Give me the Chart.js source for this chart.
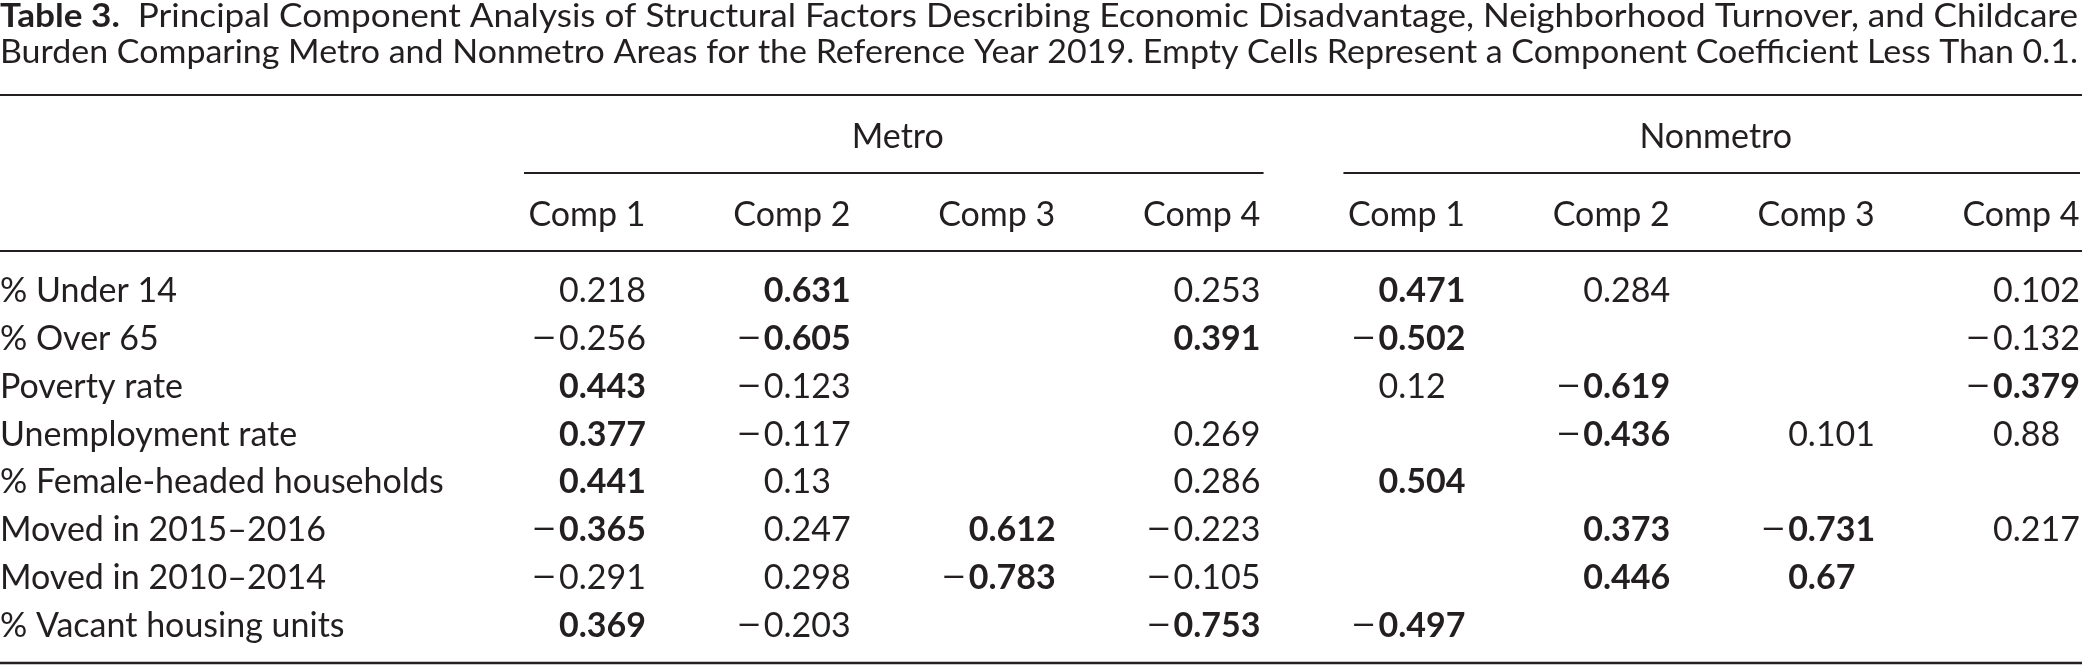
<!DOCTYPE html>
<html>
<head>
<meta charset="utf-8">
<script src="https://cdn.jsdelivr.net/npm/chart.js@4.4.1/dist/chart.umd.min.js"></script>
<style>
  html, body { margin: 0; padding: 0; background: #fff; }
  #wrap { width: 2082px; height: 665px; position: relative; }
</style>
</head>
<body>
<div id="wrap"><canvas id="table3"></canvas></div>
<script>
// table content
const titleLead = 'Table 3.';
const titleLine1 = 'Principal Component Analysis of Structural Factors Describing Economic Disadvantage, Neighborhood Turnover, and Childcare';
const titleLine2 = 'Burden Comparing Metro and Nonmetro Areas for the Reference Year 2019. Empty Cells Represent a Component Coefficient Less Than 0.1.';

const rowLabels = [
    '% Under 14',
    '% Over 65',
    'Poverty rate',
    'Unemployment rate',
    '% Female-headed households',
    'Moved in 2015–2016',
    'Moved in 2010–2014',
    '% Vacant housing units'
];
const groupLabels = ['Metro', 'Nonmetro'];
const compLabels = ['Comp 1', 'Comp 2', 'Comp 3', 'Comp 4'];

// null = empty cell (coefficient below 0.1)
const metroComp1 = [0.218, -0.256, 0.443, 0.377, 0.441, -0.365, -0.291, 0.369];
const metroComp2 = [0.631, -0.605, -0.123, -0.117, 0.13, 0.247, 0.298, -0.203];
const metroComp3 = [null, null, null, null, null, 0.612, -0.783, null];
const metroComp4 = [0.253, 0.391, null, 0.269, 0.286, -0.223, -0.105, -0.753];
const nonmetroComp1 = [0.471, -0.502, 0.12, null, 0.504, null, null, -0.497];
const nonmetroComp2 = [0.284, null, -0.619, -0.436, null, 0.373, 0.446, null];
const nonmetroComp3 = [null, null, null, 0.101, null, -0.731, 0.67, null];
const nonmetroComp4 = [0.102, -0.132, -0.379, 0.88, null, 0.217, null, null];

// cells printed in bold
const metroComp1Bold = [0, 0, 1, 1, 1, 1, 0, 1];
const metroComp2Bold = [1, 1, 0, 0, 0, 0, 0, 0];
const metroComp3Bold = [0, 0, 0, 0, 0, 1, 1, 0];
const metroComp4Bold = [0, 1, 0, 0, 0, 0, 0, 1];
const nonmetroComp1Bold = [1, 1, 0, 0, 1, 0, 0, 1];
const nonmetroComp2Bold = [0, 0, 1, 1, 0, 1, 1, 0];
const nonmetroComp3Bold = [0, 0, 0, 0, 0, 1, 1, 0];
const nonmetroComp4Bold = [0, 0, 1, 0, 0, 0, 0, 0];

const columns = [
    { group: 0, comp: 0, values: metroComp1, bold: metroComp1Bold },
    { group: 0, comp: 1, values: metroComp2, bold: metroComp2Bold },
    { group: 0, comp: 2, values: metroComp3, bold: metroComp3Bold },
    { group: 0, comp: 3, values: metroComp4, bold: metroComp4Bold },
    { group: 1, comp: 0, values: nonmetroComp1, bold: nonmetroComp1Bold },
    { group: 1, comp: 1, values: nonmetroComp2, bold: nonmetroComp2Bold },
    { group: 1, comp: 2, values: nonmetroComp3, bold: nonmetroComp3Bold },
    { group: 1, comp: 3, values: nonmetroComp4, bold: nonmetroComp4Bold }
];
const columnKeys = columns.map(c => groupLabels[c.group] + ' ' + compLabels[c.comp]);

const INK = '#231f20';
const FAMILY = 'Lato, "Open Sans", sans-serif';
const BODY_SIZE = 34;
const TITLE_SIZE = 33;

function hRule(ctx, x0, x1, y, w) {
    ctx.save();
    ctx.strokeStyle = INK;
    ctx.lineWidth = w;
    ctx.beginPath();
    ctx.moveTo(x0, y);
    ctx.lineTo(x1, y);
    ctx.stroke();
    ctx.restore();
}

// draws text pieces on one line, squeezed to a given width
function fittedLine(ctx, pieces, x, baseline, width) {
    let total = 0;
    pieces.forEach(p => {
        ctx.font = (p.bold ? 'bold ' : '') + TITLE_SIZE + 'px ' + FAMILY;
        p.w = ctx.measureText(p.text).width;
        total += p.w;
    });
    const s = width / total;
    ctx.save();
    ctx.translate(x, baseline);
    ctx.scale(s, 1);
    let cx = 0;
    pieces.forEach(p => {
        ctx.font = (p.bold ? 'bold ' : '') + TITLE_SIZE + 'px ' + FAMILY;
        ctx.fillText(p.text, cx, 0);
        cx += p.w;
    });
    ctx.restore();
}

const tableText = {
    id: 'tableText',
    afterDatasetsDraw(chart) {
        const ctx = chart.ctx;
        const W = chart.width;
        const xs = chart.scales.x;
        const ys = chart.scales.y;
        const capHalf = 12;
        ctx.save();
        ctx.fillStyle = INK;
        ctx.textBaseline = 'alphabetic';

        // caption
        ctx.textAlign = 'left';
        fittedLine(ctx, [{ text: titleLead, bold: true }, { text: '  ' + titleLine1, bold: false }], 0, 27, 2078);
        fittedLine(ctx, [{ text: titleLine2, bold: false }], 0, 63, 2078);

        hRule(ctx, 0, W, 95, 2);

        // spanner headers
        ctx.font = BODY_SIZE + 'px ' + FAMILY;
        groupLabels.forEach((g, gi) => {
            const idx = columns.map((c, i) => c.group === gi ? i : -1).filter(i => i >= 0);
            const x0 = xs.getPixelForValue(idx[0]) - 63;
            const x1 = Math.min(W - 2, xs.getPixelForValue(idx[idx.length - 1]) + 62);
            ctx.textAlign = 'center';
            ctx.fillText(g, (x0 + x1) / 2 + 4, 148);
            hRule(ctx, x0, x1, 173, 2);
        });

        // component headers
        columns.forEach((c, i) => {
            ctx.textAlign = 'center';
            ctx.fillText(compLabels[c.comp], xs.getPixelForValue(i), 226);
        });
        hRule(ctx, 0, W, 251, 2);

        // row stubs
        ctx.textAlign = 'left';
        rowLabels.forEach((r, i) => {
            ctx.fillText(r, 0, ys.getPixelForValue(i) + capHalf);
        });

        // cells, decimal aligned on the leading zero
        chart.data.datasets.forEach((ds, di) => {
            const meta = chart.getDatasetMeta(di);
            meta.data.forEach((pt, j) => {
                const cell = ds.data[j];
                const x = pt.x - 28;
                const y = pt.y + capHalf;
                ctx.font = (cell.bold ? 'bold ' : '') + BODY_SIZE + 'px ' + FAMILY;
                ctx.textAlign = 'left';
                ctx.fillText(String(Math.abs(cell.v)), x, y);
                if (cell.v < 0) {
                    // long minus as in the typeset table
                    ctx.save();
                    ctx.font = BODY_SIZE + 'px ' + FAMILY;
                    ctx.textAlign = 'right';
                    ctx.translate(x - 2, y);
                    ctx.scale(1.3, 1);
                    ctx.fillText('\u2212', 0, 0);
                    ctx.restore();
                }
            });
        });

        hRule(ctx, 0, W, 663, 2.5);
        ctx.restore();
    }
};

const datasets = columns.map((c, i) => ({
    label: columnKeys[i],
    data: c.values
        .map((v, r) => ({ x: columnKeys[i], y: rowLabels[r], v: v, bold: !!c.bold[r] }))
        .filter(d => d.v !== null),
    pointRadius: 0,
    pointHoverRadius: 0,
    showLine: false
}));

new Chart(document.getElementById('table3').getContext('2d'), {
    type: 'scatter',
    data: { datasets: datasets },
    options: {
        responsive: true,
        maintainAspectRatio: false,
        animation: false,
        events: [],
        layout: { padding: { left: 587, right: 61, top: 290, bottom: 40 } },
        plugins: { legend: { display: false }, tooltip: { enabled: false } },
        scales: {
            x: { type: 'category', labels: columnKeys, offset: false, display: false },
            y: { type: 'category', labels: rowLabels, offset: false, display: false }
        }
    },
    plugins: [tableText]
});
</script>
</body>
</html>
